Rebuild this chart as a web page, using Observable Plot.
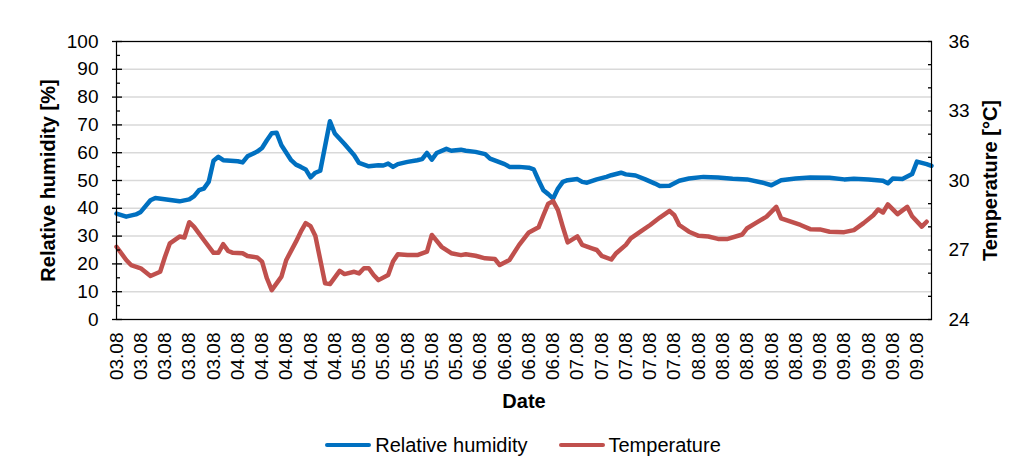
<!DOCTYPE html>
<html><head><meta charset="utf-8">
<script src="https://cdn.jsdelivr.net/npm/d3@7"></script>
<script src="https://cdn.jsdelivr.net/npm/@observablehq/plot@0.6"></script>
<style>
html,body{margin:0;padding:0;background:#fff;}
body{width:1016px;height:459px;overflow:hidden;font-family:"Liberation Sans",Arial,sans-serif;}
#legend{height:40px;display:flex;justify-content:center;align-items:center;padding-left:30px;gap:31px;font-size:20px;color:#000;}
.item{display:flex;align-items:center;}
.sw{width:46px;height:4.5px;border-radius:2px;margin-right:4px;}
</style></head><body>
<div id="chart"></div>
<div id="legend"></div>
<script>
// x-axis category labels (one every 5th hourly reading)
const dateLabels = ["03.08","03.08","03.08","03.08","03.08","04.08","04.08","04.08","04.08","04.08",
  "05.08","05.08","05.08","05.08","05.08","06.08","06.08","06.08","06.08",
  "07.08","07.08","07.08","07.08","07.08","08.08","08.08","08.08","08.08","08.08",
  "09.08","09.08","09.08","09.08","09.08"];
const labelStep = 5;
const lastHour = 168;

// Relative humidity [%] : reading index (hour) and value
const rhHour = [0,2,4,5,7,8,13,15,16,17,18,19,20,21,22,25,26,27,29,30,31,32,33,34,36,37,38,39,40,41,42,44,45,47,49,50,52,54,55,56,57,58,60,62,63,64,65,66,68,69,71,72,74,76,77,80,81,83,85,86,87,88,89,90,91,92,93,95,96,97,99,101,102,104,105,107,109,111,112,114,116,118,121,124,127,130,133,135,137,140,143,147,150,152,155,158,159,160,162,164,165,167,168];
const rhValue = [38.1,37.0,37.8,38.7,42.9,43.7,42.5,43.2,44.4,46.5,47.1,49.5,57.1,58.5,57.3,56.9,56.5,58.7,60.4,61.7,64.5,67.0,67.2,62.7,57.3,55.7,54.9,54.0,51.1,52.8,53.5,71.3,66.9,63.1,59.1,56.3,55.1,55.5,55.4,56.1,54.9,55.9,56.7,57.3,57.7,59.9,57.5,59.9,61.4,60.7,61.1,60.7,60.3,59.5,57.9,55.9,54.9,54.9,54.6,54.0,50.1,46.5,45.1,43.5,47.1,49.5,50.1,50.5,49.5,49.2,50.4,51.3,51.9,52.8,52.2,51.8,50.4,48.9,48.0,48.1,49.9,50.7,51.3,51.1,50.6,50.4,49.3,48.3,50.1,50.7,51.1,51.0,50.4,50.6,50.4,49.9,49.0,50.7,50.5,52.3,56.8,55.9,55.3];

// Temperature [°C] : reading index (hour) and value
const tHour = [0,2,3,5,7,9,10,11,13,14,15,16,18,20,21,22,23,24,26,27,29,30,31,32,34,35,37,38,39,40,41,43,44,46,47,49,50,51,52,53,54,56,57,58,60,62,64,65,67,69,71,72,74,76,78,79,81,83,85,87,88,89,90,91,92,93,95,96,98,99,100,102,103,105,106,108,110,112,114,115,116,118,120,122,124,126,129,130,132,134,136,137,139,141,143,145,147,150,152,154,156,157,158,159,161,163,164,166,167];
const tValue = [27.14,26.57,26.35,26.21,25.88,26.06,26.71,27.29,27.58,27.54,28.2,28.0,27.43,26.88,26.88,27.25,26.96,26.88,26.86,26.74,26.68,26.5,25.78,25.27,25.85,26.57,27.36,27.79,28.16,28.03,27.6,25.56,25.53,26.1,25.96,26.06,25.99,26.21,26.21,25.92,25.7,25.92,26.5,26.82,26.78,26.78,26.93,27.65,27.14,26.86,26.78,26.82,26.75,26.64,26.61,26.35,26.57,27.22,27.76,27.98,28.5,29.0,29.11,28.72,28.0,27.33,27.59,27.22,27.07,27.0,26.75,26.59,26.86,27.22,27.5,27.79,28.08,28.4,28.69,28.5,28.08,27.79,27.61,27.58,27.48,27.48,27.67,27.94,28.19,28.44,28.86,28.37,28.22,28.08,27.9,27.89,27.79,27.77,27.86,28.16,28.5,28.75,28.62,28.97,28.55,28.86,28.46,28.01,28.22];

// axis ticks
const rhTicks = [0,10,20,30,40,50,60,70,80,90,100];
const rhMinorTicks = [5,15,25,35,45,55,65,75,85,95];
const tTicks = [24,25,26,27,28,29,30,31,32,33,34,35,36];
const tLabelTicks = [24,27,30,33,36];
const tMin = 24, tMax = 36;

const seriesNames = ["Relative humidity", "Temperature"];
const colors = ["#0070C0", "#C0504D"];

const toRH = t => (t - tMin) * 100 / (tMax - tMin);
const toT = v => tMin + v * (tMax - tMin) / 100;

const rhData = rhHour.map((h, i) => ({hour: h, value: rhValue[i]}));
const tData = tHour.map((h, i) => ({hour: h, value: tValue[i]}));
const labelHours = dateLabels.map((_, i) => i * labelStep);

const font = "'Liberation Sans', Arial, sans-serif";

const chart = Plot.plot({
  width: 1016, height: 425,
  marginLeft: 116, marginRight: 85, marginTop: 41, marginBottom: 106,
  style: {fontFamily: font, fontSize: "19px", color: "#000", background: "#fff", overflow: "visible"},
  x: {domain: [0, lastHour], label: null},
  y: {domain: [0, 100], label: null},
  marks: [
    Plot.gridY({ticks: rhTicks, stroke: "#d9d9d9", strokeOpacity: 1, strokeWidth: 1.5}),
    Plot.line(rhData, {x: "hour", y: "value", stroke: colors[0], strokeWidth: 4.5, strokeLinejoin: "round"}),
    Plot.line(tData, {x: "hour", y: d => toRH(d.value), stroke: colors[1], strokeWidth: 4.5, strokeLinejoin: "round"}),
    Plot.frame({stroke: "#000", strokeWidth: 1.2}),
    // left axis
    Plot.axisY({ticks: rhTicks, tickSize: 0, tickPadding: 18, label: null}),
    Plot.axisY({ticks: rhTicks, tickSize: 10, dx: 6, tickFormat: () => "", label: null, strokeWidth: 1.3}),
    Plot.axisY({ticks: rhMinorTicks, tickSize: 4, dx: 4, tickFormat: () => "", label: null, strokeWidth: 1.3}),
    // right axis (temperature)
    Plot.axisY({anchor: "right", ticks: tTicks.map(toRH), tickSize: 4, dx: -4, tickFormat: () => "", label: null, strokeWidth: 1.3}),
    Plot.axisY({anchor: "right", ticks: tLabelTicks.map(toRH), tickSize: 0, tickPadding: 17, tickFormat: v => String(Math.round(toT(v))), label: null}),
    // x axis labels
    Plot.axisX({ticks: labelHours, tickSize: 0, tickPadding: 13, tickRotate: -90,
      tickFormat: d => dateLabels[labelHours.indexOf(d)], label: null}),
    // titles
    Plot.text(["Relative humidity [%]"], {frameAnchor: "left", dx: -68, rotate: -90, textAnchor: "middle", lineAnchor: "middle", fontWeight: "bold", fontSize: 20, fill: "#000"}),
    Plot.text(["Temperature [°C]"], {frameAnchor: "right", dx: 59, rotate: -90, textAnchor: "middle", lineAnchor: "middle", fontWeight: "bold", fontSize: 20, fill: "#000"}),
    Plot.text(["Date"], {frameAnchor: "bottom", dy: 82, lineAnchor: "middle", fontWeight: "bold", fontSize: 20, fill: "#000"})
  ]
});
document.getElementById("chart").appendChild(chart);

const legend = document.getElementById("legend");
seriesNames.forEach((name, i) => {
  const item = document.createElement("div");
  item.className = "item";
  const sw = document.createElement("div");
  sw.className = "sw";
  sw.style.background = colors[i];
  const lab = document.createElement("span");
  lab.textContent = name;
  item.appendChild(sw); item.appendChild(lab);
  legend.appendChild(item);
});
</script></body></html>
